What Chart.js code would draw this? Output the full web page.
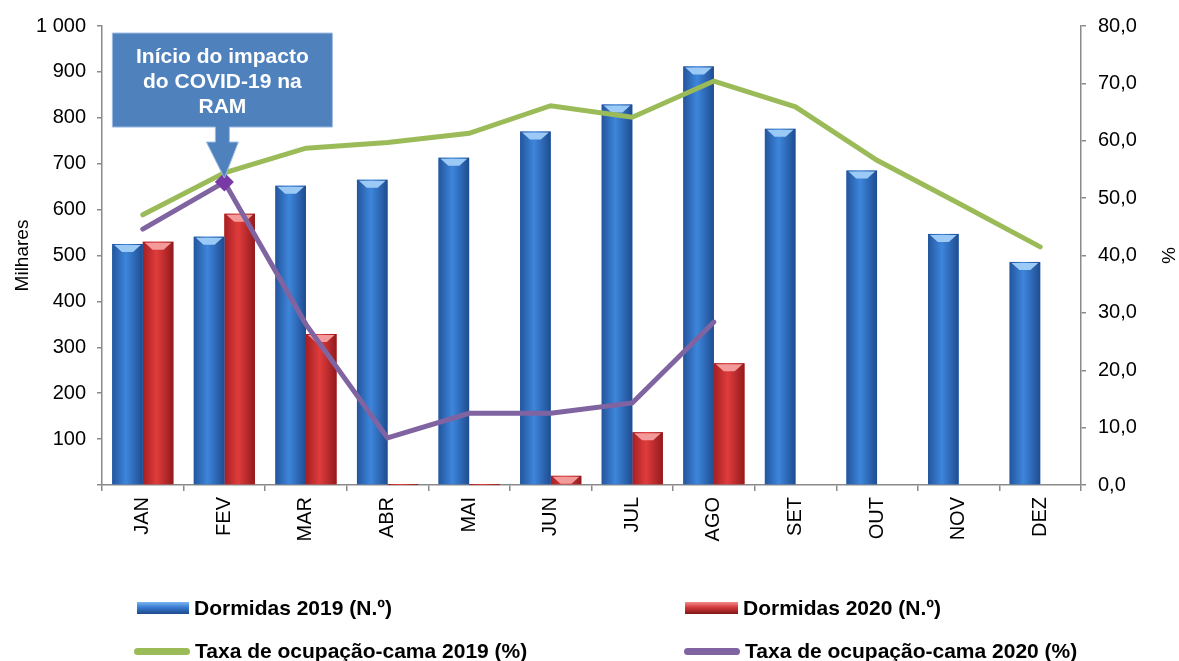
<!DOCTYPE html>
<html>
<head>
<meta charset="utf-8">
<title>Dormidas e taxa de ocupação-cama</title>
<script src="https://cdn.jsdelivr.net/npm/chart.js@4.4.1/dist/chart.umd.min.js"></script>
<style>
html, body { margin: 0; padding: 0; background: #fff; }
#wrap { position: relative; width: 1179px; height: 661px; }
canvas { display: block; }
.leg { position: absolute; display: flex; align-items: center; white-space: nowrap;
       font: bold 21px "Liberation Sans", Arial, sans-serif; color: #000; height: 26px; }
.sw { display: inline-block; margin-right: 5px; }
.sw.blue { width: 52px; height: 12px; background: linear-gradient(#7ab4f2, #3a7bd0 45%, #1d4a8c); }
.sw.red { width: 53px; height: 12px; background: linear-gradient(#f48a8a, #d23a3a 45%, #7e1616); }
.sw.green { width: 56px; height: 7px; border-radius: 4px; background: #9bbb59; }
.sw.purple { width: 56px; height: 7px; border-radius: 4px; background: #8064a2; }
</style>
</head>
<body>
<div id="wrap">
  <canvas id="chart" width="1179" height="661"></canvas>
  <div class="leg" style="left:137px; top:595px"><span class="sw blue"></span>Dormidas 2019 (N.º)</div>
  <div class="leg" style="left:685px; top:595px"><span class="sw red"></span>Dormidas 2020 (N.º)</div>
  <div class="leg" style="left:134px; top:638px"><span class="sw green"></span>Taxa de ocupação-cama 2019 (%)</div>
  <div class="leg" style="left:684px; top:638px"><span class="sw purple"></span>Taxa de ocupação-cama 2020 (%)</div>
</div>
<script>
/* ============================ Data ============================ */
const months = ["JAN","FEV","MAR","ABR","MAI","JUN","JUL","AGO","SET","OUT","NOV","DEZ"];
const dormidas2019 = [525, 541, 652, 665, 713, 770, 829, 912, 776, 685, 547, 486];
const dormidas2020 = [530, 591, 329, 2, 2, 20, 115, 265, null, null, null, null];
const taxa2019 = [47.1, 54.4, 58.7, 59.7, 61.3, 66.1, 64.1, 70.4, 65.9, 56.6, 49.1, 41.5];
const taxa2020 = [44.6, 52.8, 28.0, 8.2, 12.5, 12.5, 14.3, 28.4, null, null, null, null];
const leftTicks = { min: 0, max: 1000, step: 100 };
const rightTicks = { min: 0, max: 80, step: 10 };
const calloutIndex = 1;
const calloutLines = ["Início do impacto", "do COVID-19 na", "RAM"];

/* ============================ Styles ============================ */
const FONT = '"Liberation Sans", Arial, sans-serif';
const AXIS = "#8a8a8a";
const shades = {
    blue: ["#24559c", "#3d86dc", "#1f4c90", "#9ccaf6"],
    red:  ["#a61f22", "#e03c3c", "#931a1c", "#f49a9a"]
};

function spaceThousands(v) {
    return String(v).replace(/\B(?=(\d{3})+(?!\d))/g, " ");
}

/* ============================ Plugins ============================ */
// paints each bar with a side-lit gradient and a light cap on top
const barShade = {
    id: "barShade",
    afterDatasetDraw(chart, args) {
        const ds = chart.data.datasets[args.index];
        if (!ds.shade) return;
        const c = chart.ctx;
        const pal = shades[ds.shade];
        args.meta.data.forEach((bar, i) => {
            if (ds.data[i] == null) return;
            const p = bar.getProps(["x", "y", "base", "width"], true);
            const l = p.x - p.width / 2, r = p.x + p.width / 2;
            const g = c.createLinearGradient(l, 0, r, 0);
            g.addColorStop(0, pal[0]);
            g.addColorStop(0.45, pal[1]);
            g.addColorStop(1, pal[2]);
            c.save();
            c.fillStyle = g;
            c.fillRect(l, p.y, p.width, Math.max(1, p.base - p.y));
            const h = Math.min(8, p.base - p.y);
            if (h > 3) {
                c.fillStyle = pal[3];
                c.beginPath();
                c.moveTo(l + 2, p.y + 1);
                c.lineTo(r - 2, p.y + 1);
                c.lineTo(p.x + p.width * 0.18, p.y + h);
                c.lineTo(p.x - p.width * 0.18, p.y + h);
                c.closePath();
                c.fill();
            }
            c.restore();
        });
    }
};

// arrow-shaped callout pointing at the 2020 FEV point
const callout = {
    id: "callout",
    afterDraw(chart) {
        const pt = chart.getDatasetMeta(3).data[calloutIndex];
        if (!pt) return;
        const c = chart.ctx;
        const tipX = pt.x, tipY = pt.y - 4;
        const cx = tipX - 2;
        const headW = 32, headH = 36, stemW = 14, stemH = 15, boxW = 220, boxH = 94;
        const stemTop = tipY - headH - stemH;
        const boxTop = stemTop - boxH;
        c.save();
        c.beginPath();
        c.moveTo(cx - boxW / 2, boxTop);
        c.lineTo(cx + boxW / 2, boxTop);
        c.lineTo(cx + boxW / 2, stemTop);
        c.lineTo(cx + stemW / 2, stemTop);
        c.lineTo(cx + stemW / 2, tipY - headH);
        c.lineTo(cx + headW / 2, tipY - headH);
        c.lineTo(tipX, tipY);
        c.lineTo(cx - headW / 2, tipY - headH);
        c.lineTo(cx - stemW / 2, tipY - headH);
        c.lineTo(cx - stemW / 2, stemTop);
        c.lineTo(cx - boxW / 2, stemTop);
        c.closePath();
        c.fillStyle = "#4f81bd";
        c.fill();
        c.lineWidth = 1;
        c.strokeStyle = "#9dbbe3";
        c.stroke();
        c.fillStyle = "#ffffff";
        c.font = "bold 21px " + FONT;
        c.textAlign = "center";
        c.textBaseline = "middle";
        calloutLines.forEach((line, i) => c.fillText(line, cx, boxTop + 24 + i * 25));
        c.restore();
    }
};

/* ============================ Chart ============================ */
const ctx = document.getElementById("chart").getContext("2d");
new Chart(ctx, {
    type: "bar",
    data: {
        labels: months,
        datasets: [
            { label: "Dormidas 2019 (N.º)", data: dormidas2019, yAxisID: "y", order: 2,
              backgroundColor: "#3a7bd0", shade: "blue" },
            { label: "Dormidas 2020 (N.º)", data: dormidas2020, yAxisID: "y", order: 2,
              backgroundColor: "#d23a3a", shade: "red" },
            { type: "line", label: "Taxa de ocupação-cama 2019 (%)", data: taxa2019, yAxisID: "y1", order: 1,
              borderColor: "#9bbb59", borderWidth: 5, pointRadius: 0, tension: 0, borderCapStyle: "round" },
            { type: "line", label: "Taxa de ocupação-cama 2020 (%)", data: taxa2020, yAxisID: "y1", order: 0,
              borderColor: "#8064a2", borderWidth: 5, tension: 0, borderCapStyle: "round", spanGaps: false,
              pointStyle: "rectRot",
              pointRadius: c => c.dataIndex === calloutIndex ? 6 : 0,
              pointBackgroundColor: "#7a3aa6", pointBorderColor: "#7a3aa6" }
        ]
    },
    options: {
        responsive: false,
        animation: false,
        layout: { padding: { top: 26, bottom: 106, left: 0, right: 0 } },
        datasets: { bar: { categoryPercentage: 0.75, barPercentage: 1 } },
        plugins: { legend: { display: false }, tooltip: { enabled: false } },
        scales: {
            x: {
                offset: true,
                grid: { display: true, offset: true, drawOnChartArea: false, tickLength: 6, color: AXIS, lineWidth: 1.5 },
                border: { color: AXIS, width: 1.5 },
                ticks: { color: "#000", font: { family: FONT, size: 20 }, minRotation: 90, maxRotation: 90, padding: 6 },
                afterFit: s => { s.width = s.width; s.height = 70; }
            },
            y: {
                position: "left",
                min: leftTicks.min, max: leftTicks.max,
                grid: { drawOnChartArea: false, tickLength: 5, color: AXIS, lineWidth: 1.5 },
                border: { color: AXIS, width: 1.5 },
                ticks: { stepSize: leftTicks.step, color: "#000", font: { family: FONT, size: 20 }, padding: 11,
                         callback: v => v === 0 ? "" : spaceThousands(v) },
                title: { display: true, text: "Milhares", color: "#000", font: { family: FONT, size: 19 },
                         padding: { top: 11, bottom: 0 } },
                afterFit: s => { s.width = 102; }
            },
            y1: {
                position: "right",
                min: rightTicks.min, max: rightTicks.max,
                grid: { drawOnChartArea: false, tickLength: 5, color: AXIS, lineWidth: 1.5 },
                border: { color: AXIS, width: 1.5 },
                ticks: { stepSize: rightTicks.step, color: "#000", font: { family: FONT, size: 20 }, padding: 12,
                         callback: v => v.toFixed(1).replace(".", ",") },
                title: { display: true, text: "%", color: "#000", font: { family: FONT, size: 19 },
                         padding: { top: 0, bottom: 0 } },
                afterFit: s => { s.width = 98; }
            }
        }
    },
    plugins: [barShade, callout]
});
</script>
</body>
</html>
